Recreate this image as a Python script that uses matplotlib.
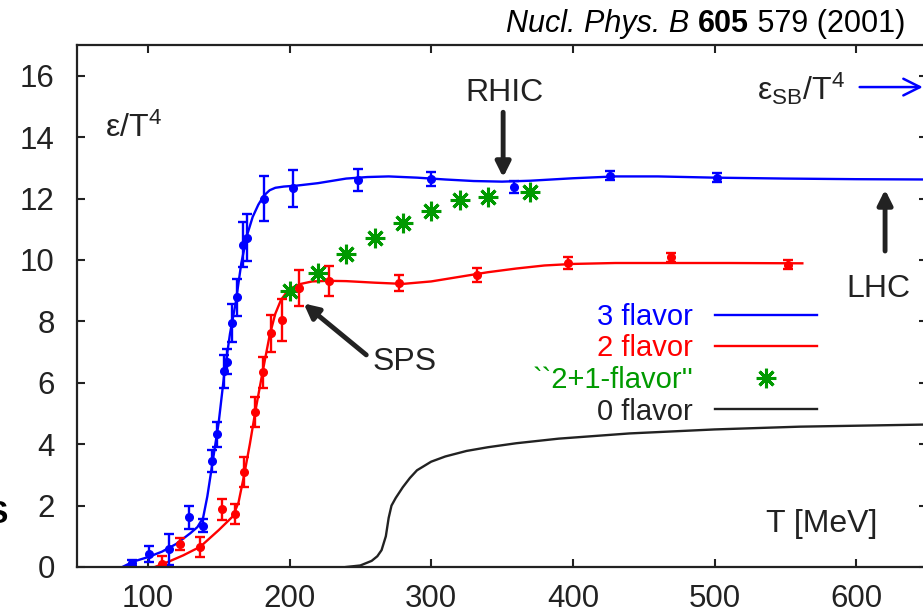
import matplotlib
matplotlib.use("Agg")
import matplotlib.pyplot as plt

plt.rcParams['font.family'] = ['Liberation Sans', 'DejaVu Sans']
plt.rcParams['mathtext.fontset'] = 'custom'
plt.rcParams['mathtext.rm'] = 'Liberation Sans'
plt.rcParams['mathtext.it'] = 'Liberation Sans:italic'
plt.rcParams['mathtext.bf'] = 'Liberation Sans:bold'

# lattice points, 3 flavor (T in MeV, eps/T^4, error)
t3_pts = [88.7, 100.9, 114.6, 129.4, 138.8, 145.6, 148.7, 154.1, 155.8, 159.3,
          163.2, 167.0, 170.3, 182.1, 202.8, 248.0, 300.0, 358.6, 426.4, 502.0]
e3_pts = [0.14, 0.42, 0.58, 1.62, 1.35, 3.45, 4.32, 6.38, 6.69, 7.96,
          8.78, 10.49, 10.73, 12.0, 12.33, 12.6, 12.64, 12.38, 12.74, 12.68]
e3_err = [0.1, 0.25, 0.5, 0.38, 0.22, 0.37, 0.4, 0.54, 0.4, 0.62,
          0.6, 0.73, 0.77, 0.74, 0.6, 0.35, 0.23, 0.2, 0.15, 0.15]

# lattice points, 2 flavor
t2_pts = [110.3, 122.8, 136.9, 152.0, 161.6, 168.2, 175.7, 181.2, 186.8,
          194.6, 206.8, 228.2, 277.4, 332.2, 396.8, 469.4, 552.2]
e2_pts = [0.1, 0.75, 0.66, 1.88, 1.72, 3.1, 5.06, 6.34, 7.61,
          8.05, 9.08, 9.32, 9.24, 9.51, 9.9, 10.08, 9.84]
e2_err = [0.25, 0.21, 0.33, 0.34, 0.32, 0.49, 0.49, 0.5, 0.6,
          0.68, 0.58, 0.49, 0.26, 0.22, 0.2, 0.15, 0.15]

# "2+1-flavor" points
t21 = [200, 220, 240, 260, 280, 300, 320, 340, 370]
e21 = [9.0, 9.59, 10.2, 10.73, 11.2, 11.6, 11.95, 12.05, 12.21]

# fitted curves
t3_curve = [82, 90, 100, 110, 120, 130, 135, 139, 142, 146, 150, 154, 158, 162,
            166, 170, 174, 178, 182, 186, 190, 196, 205, 220, 240, 255, 270,
            290, 310, 330, 350, 370, 400, 430, 460, 500, 550, 600, 650]
e3_curve = [0.0, 0.18, 0.32, 0.5, 0.75, 1.1, 1.3, 1.6, 2.3, 3.5, 4.7, 6.3, 7.6, 8.6,
            9.9, 10.8, 11.4, 11.8, 12.1, 12.27, 12.35, 12.39, 12.42, 12.5, 12.65,
            12.7, 12.72, 12.68, 12.62, 12.57, 12.55, 12.58, 12.66, 12.72, 12.72,
            12.68, 12.65, 12.63, 12.62]

t2_curve = [105, 115, 125, 137, 150, 160, 164, 168, 172, 176, 181, 186, 190, 194,
            198, 202, 208, 216, 228, 240, 260, 280, 300, 320, 340, 360, 380, 400,
            430, 470, 510, 562]
e2_curve = [0.0, 0.18, 0.38, 0.66, 1.2, 1.65, 2.1, 3.0, 4.0, 5.1, 6.35, 7.55, 8.25,
            8.7, 8.95, 9.1, 9.22, 9.3, 9.32, 9.31, 9.26, 9.22, 9.3, 9.45, 9.6,
            9.72, 9.82, 9.87, 9.9, 9.9, 9.9, 9.89]

t0_curve = [240, 250, 258, 262, 265, 268, 270, 272, 275, 280, 285, 290, 300, 310,
            325, 340, 360, 390, 440, 500, 560, 650]
e0_curve = [0.0, 0.05, 0.2, 0.35, 0.55, 1.0, 1.6, 2.0, 2.25, 2.6, 2.9, 3.15, 3.43,
            3.6, 3.78, 3.9, 4.03, 4.18, 4.35, 4.48, 4.57, 4.64]

x_ticks = [100, 200, 300, 400, 500, 600]
y_ticks = [0, 2, 4, 6, 8, 10, 12, 14, 16]

blue = '#0000ff'
red = '#ff0000'
green = '#009a00'
dark = '#222222'

fig = plt.figure(figsize=(9.23, 6.13), dpi=100)
ax = fig.add_axes([77 / 923, 1 - 567 / 613, 850 / 923, 522 / 613])

ax.plot(t3_curve, e3_curve, color=blue, lw=1.7, label='3 flavor')
ax.plot(t2_curve, e2_curve, color=red, lw=1.7, label='2 flavor')
ax.plot(t21, e21, ls='none', marker=(8, 2, 0), ms=14, mew=2.2, color=green,
        label="``2+1-flavor''")
ax.plot(t0_curve, e0_curve, color=dark, lw=1.7, label='0 flavor')

ax.errorbar(t3_pts, e3_pts, yerr=e3_err, fmt='o', color=blue, ms=5.5,
            elinewidth=1.7, capsize=3.8, capthick=1.7)
ax.errorbar(t2_pts, e2_pts, yerr=e2_err, fmt='o', color=red, ms=5.5,
            elinewidth=1.7, capsize=3.8, capthick=1.7)

ax.set_xlim(50, 650)
ax.set_ylim(0, 17)
ax.set_xticks(x_ticks)
ax.set_yticks(y_ticks)
ax.tick_params(direction='in', length=6, width=1.5, top=True, right=True,
               labelsize=22.5, colors=dark)
ax.tick_params(axis='x', pad=12)
ax.tick_params(axis='y', pad=16)
for s in ax.spines.values():
    s.set_linewidth(1.6)
    s.set_color(dark)

ax.text(70, 14.0, 'ε/T$^{4}$', fontsize=23, color=dark)
ax.text(615, 1.14, 'T [MeV]', fontsize=23, color=dark, ha='right')

# annotations
ax.annotate('', xy=(350.8, 12.6), xytext=(350.8, 14.9),
            arrowprops=dict(arrowstyle='-|>', lw=3.5, color=dark, mutation_scale=22))
ax.text(352, 15.45, 'RHIC', fontsize=23, color=dark, ha='center', va='center')

ax.annotate('', xy=(620.4, 12.38), xytext=(620.4, 10.2),
            arrowprops=dict(arrowstyle='-|>', lw=3.5, color=dark, mutation_scale=22))
ax.text(616, 9.05, 'LHC', fontsize=23, color=dark, ha='center', va='center')

ax.annotate('', xy=(208.5, 8.64), xytext=(255.7, 6.85),
            arrowprops=dict(arrowstyle='-|>', lw=3.5, color=dark, mutation_scale=22))
ax.text(258.8, 6.69, 'SPS', fontsize=23, color=dark, ha='left', va='center')

ax.text(530, 15.21, 'ε$_{\\mathrm{SB}}$/T$^{4}$', fontsize=23, color=dark)
ax.annotate('', xy=(649, 15.63), xytext=(600.5, 15.63), annotation_clip=False,
            arrowprops=dict(arrowstyle='->,head_length=0.8,head_width=0.4',
                            lw=1.8, color=blue, mutation_scale=15))

leg = ax.legend(loc='upper right', bbox_to_anchor=(817 / 923, 1 - 303 / 613),
                bbox_transform=fig.transFigure, frameon=False, markerfirst=False,
                fontsize=21, handlelength=3.5, handletextpad=0.75, labelspacing=0.12,
                borderpad=0, borderaxespad=0, numpoints=1,
                labelcolor=[blue, red, green, dark])

# reference line at the top, built right to left from three styled pieces
renderer = fig.canvas.get_renderer()
ref_y = 1 - 31.7 / 613
x_right = 905 / 923
pieces = [(' 579 (2001)', 'normal', 'normal'),
          ('605', 'normal', 'bold'),
          ('Nucl. Phys. B ', 'italic', 'normal')]
for txt, style, weight in pieces:
    t = fig.text(x_right, ref_y, txt, fontsize=22, color='black', ha='right',
                 va='baseline', fontstyle=style, fontweight=weight)
    bb = t.get_window_extent(renderer)
    x_right = bb.x0 / fig.bbox.width

# clipped glyph at the left edge of the original
fig.text(7 / 923, 1 - 523 / 613, 'S', fontsize=23, fontweight='bold',
         color='black', ha='right', va='baseline')

fig.savefig('out.png', dpi=100)
